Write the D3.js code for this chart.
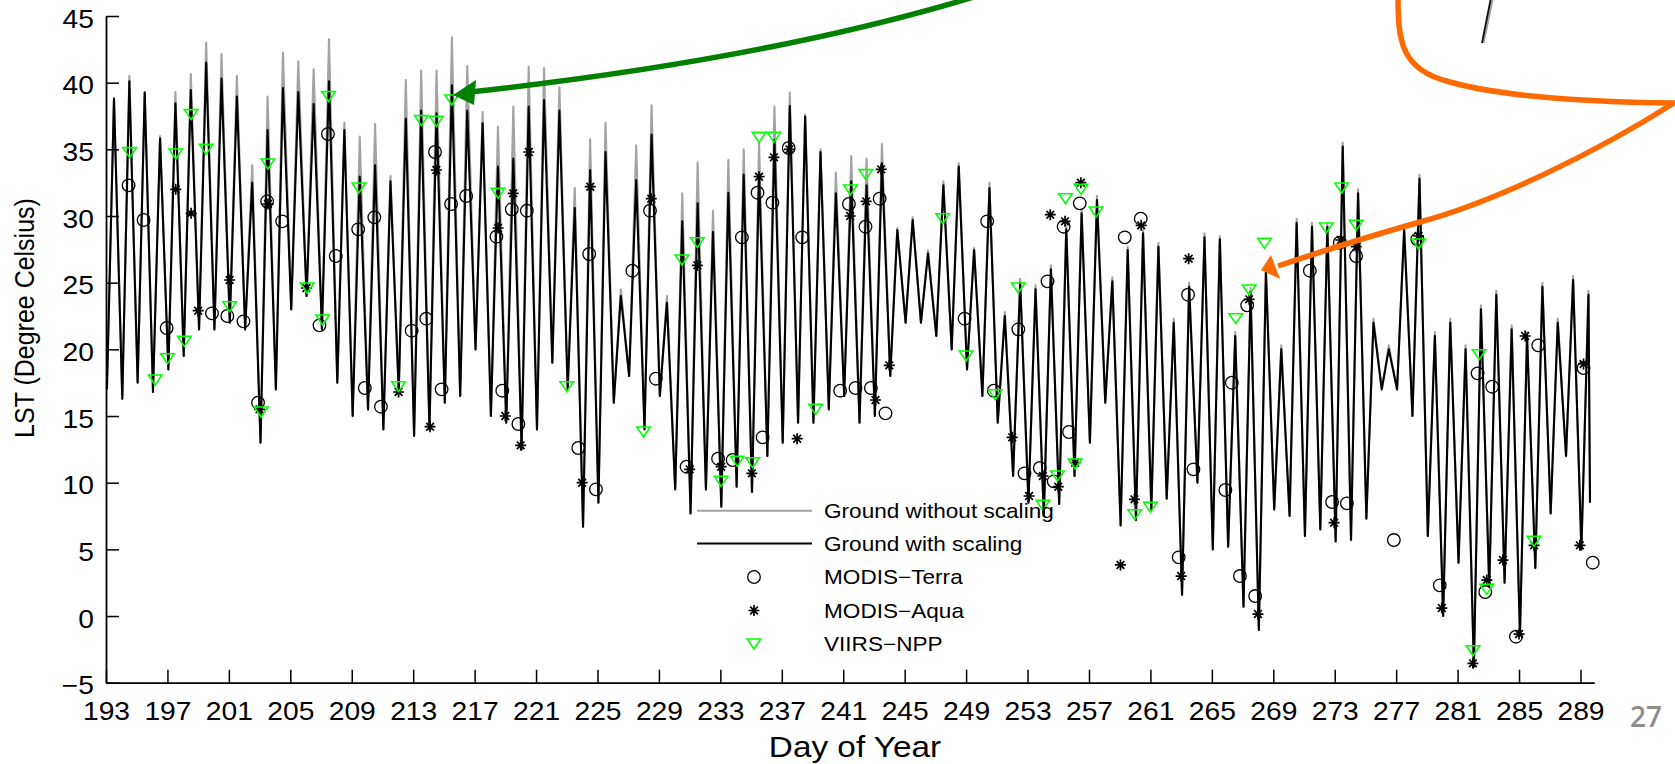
<!DOCTYPE html>
<html>
<head>
<meta charset="utf-8">
<script src="https://cdn.jsdelivr.net/npm/d3@7"></script>
<style>
  body { margin: 0; background: #fff; }
  svg { display: block; font-family: "Liberation Sans", Arial, Helvetica, sans-serif; }
</style>
</head>
<body>
<svg id="chart" width="1675" height="764"></svg>
<script>
// ---- data -------------------------------------------------------------
const firstDay = 193;
// hour-of-day (as day fraction) of the nightly minimum and afternoon peak
const lowTime = 0.06;
const peakTime = 0.52;

// daily afternoon peak of ground LST, with emissivity scaling (deg C)
const peakScaled = [
  38.8, 40.1, 39.25, 35.8, 38.45, 39.45, 41.5, 40.3, 38.95, 32.5,
  36.45, 39.6, 39.3, 38.4, 40.1, 36.45, 32.95, 33.8, 32.6, 37.3,
  37.9, 37.7, 39.8, 37.9, 36.95, 33.7, 34.3, 38.2, 38.7, 37.9,
  30.6, 33.45, 34.8, 24.0, 32.7, 36.1, 23.5, 29.6, 30.95, 28.8,
  31.75, 33.1, 33.2, 35.7, 38.25, 37.45, 34.8, 31.7, 32.6, 32.3,
  33.95, 28.95, 29.7, 27.2, 32.3, 33.7, 27.45, 32.1, 22.5, 25.0,
  24.5, 26.0, 29.0, 30.2, 31.2, 25.1, 27.45, 28.7, 27.7, 22.0,
  24.7, 28.4, 28.25, 21.0, 24.3, 25.8, 20.0, 29.5, 29.2, 29.2,
  35.2, 31.7, 22.0, 20.0, 28.95, 32.8, 21.0, 22.0, 20.0, 23.0,
  24.1, 21.5, 21.0, 24.7, 22.0, 25.2, 24.1
];

// daily afternoon peak without scaling (deg C)
const peakRaw = [
  38.8, 40.5, 39.3, 36.0, 39.3, 40.65, 43.0, 42.15, 40.5, 33.8,
  38.95, 42.25, 41.6, 41.0, 43.25, 37.0, 35.95, 36.9, 33.0, 40.2,
  40.9, 40.9, 43.4, 41.25, 37.8, 36.7, 38.2, 41.2, 41.1, 39.65,
  32.1, 35.75, 37.0, 24.5, 35.3, 38.3, 24.0, 31.7, 34.0, 30.4,
  34.2, 35.0, 35.5, 38.2, 39.25, 37.6, 35.0, 33.25, 34.5, 34.3,
  35.4, 29.1, 29.9, 27.4, 32.6, 33.95, 27.6, 32.5, 22.8, 25.3,
  24.8, 26.3, 29.3, 30.5, 31.5, 25.4, 27.7, 29.0, 28.0, 22.3,
  25.0, 28.7, 28.5, 21.3, 24.6, 26.1, 20.3, 29.8, 29.5, 29.5,
  35.5, 32.0, 22.3, 20.3, 29.2, 33.1, 21.3, 22.3, 20.3, 23.3,
  24.4, 21.8, 21.3, 25.0, 22.3, 25.5, 24.4
];

// daily nightly minimum (deg C)
const dailyLow = [
  17.0, 16.3, 17.5, 16.8, 18.5, 19.5, 21.5, 21.5, 22.0, 21.5,
  13.0, 17.0, 23.0, 24.0, 21.5, 17.5, 15.0, 15.5, 14.0, 16.8,
  13.5, 14.0, 16.0, 16.5, 20.0, 15.0, 14.5, 12.5, 14.0, 19.0,
  17.0, 6.7, 8.5, 16.0, 18.0, 14.0, 16.5, 9.5, 7.7, 9.5,
  8.2, 9.7, 9.3, 12.0, 13.0, 14.5, 14.5, 15.5, 16.5, 14.5,
  15.0, 18.0, 22.0, 22.0, 21.0, 20.0, 18.5, 16.5, 14.5, 10.5,
  8.5, 7.5, 8.4, 10.5, 13.0, 16.0, 6.8, 7.2, 8.0, 8.8,
  1.6, 10.0, 5.0, 5.2, 0.7, -1.05, 8.0, 7.5, 6.0, 6.5,
  5.6, 5.7, 7.3, 17.0, 17.0, 15.0, 6.0, 0.0, 4.0, -3.8,
  2.2, 2.5, -1.4, 3.6, 7.7, 12.0, 5.0
];

// last ground sample of the record [day, deg C]
const recordEnd = [289.62, 8.5];

// satellite LST retrievals [day of year, deg C]
const modisTerra = [
  [194.47, 32.3], [195.45, 29.7], [196.95, 21.6], [199.9, 22.7], [200.9, 22.5],
  [201.95, 22.1], [202.9, 16.0], [203.49, 31.1], [204.47, 29.6], [206.9, 21.8],
  [207.45, 36.15], [207.96, 27.0], [209.42, 29.0], [209.85, 17.1], [210.47, 29.9],
  [210.9, 15.7], [212.9, 21.4], [213.85, 22.3], [214.42, 34.8], [214.85, 17.0],
  [215.47, 30.9], [216.45, 31.5], [218.42, 28.45], [218.8, 16.9], [219.42, 30.5],
  [219.85, 14.4], [220.4, 30.4], [223.75, 12.6], [224.46, 27.15], [224.9, 9.5],
  [227.27, 25.9], [228.42, 30.4], [228.8, 17.8], [230.8, 11.2], [232.85, 11.8],
  [233.8, 11.7], [234.4, 28.4], [235.42, 31.75], [235.75, 13.4], [236.39, 31.0],
  [237.45, 35.1], [238.33, 28.4], [240.8, 16.9], [241.37, 30.9], [241.8, 17.1],
  [242.45, 29.2], [242.8, 17.1], [243.37, 31.3], [243.75, 15.2], [248.9, 22.3],
  [250.37, 29.6], [250.8, 16.9], [252.4, 21.5], [252.8, 10.7], [253.8, 11.1],
  [254.3, 25.1], [254.7, 10.1], [255.35, 29.2], [255.7, 13.8], [256.4, 30.95],
  [259.33, 28.4], [260.37, 29.8], [262.84, 4.4], [263.45, 24.1], [263.8, 11.0],
  [265.88, 9.45], [266.3, 17.5], [266.83, 3.0], [267.3, 23.3], [267.82, 1.5],
  [271.38, 25.9], [272.83, 8.55], [273.33, 28.0], [273.79, 8.45], [274.39, 27.0],
  [276.85, 5.7], [278.38, 28.25], [279.84, 2.3], [282.3, 18.2], [282.8, 1.8],
  [283.25, 17.2], [284.8, -1.55], [286.25, 20.3], [289.2, 18.6], [289.8, 4.0]
];

const modisAqua = [
  [197.54, 32.0], [198.54, 30.2], [199.0, 22.9], [201.05, 25.2], [203.0, 15.5],
  [203.54, 30.9], [206.05, 24.6], [212.05, 16.8], [214.1, 14.2], [214.51, 33.45],
  [218.53, 29.1], [219.0, 15.0], [219.51, 31.7], [220.0, 12.8], [220.53, 34.8],
  [224.0, 10.0], [224.53, 32.2], [228.5, 31.3], [231.0, 11.0], [231.5, 26.3],
  [233.05, 11.2], [235.05, 10.7], [235.52, 32.95], [236.49, 34.4], [237.5, 35.0],
  [238.0, 13.3], [241.45, 30.0], [242.49, 31.1], [243.1, 16.2], [243.47, 33.5],
  [244.0, 18.8], [252.0, 13.4], [253.1, 9.0], [254.0, 10.5], [254.48, 30.1],
  [255.0, 9.7], [255.44, 29.6], [256.1, 11.5], [256.47, 32.5], [259.05, 3.83],
  [259.96, 8.75], [260.4, 29.3], [263.0, 3.0], [263.49, 26.8], [267.43, 23.75],
  [268.0, 0.15], [272.96, 7.0], [273.4, 28.2], [274.4, 27.7], [278.46, 28.5],
  [279.97, 0.6], [282.0, -3.55], [282.9, 2.7], [283.95, 4.2], [285.0, -1.35],
  [285.4, 21.0], [285.98, 5.3], [288.96, 5.3], [289.2, 18.9]
];

const viirsNpp = [
  [194.54, 34.75], [196.2, 17.7], [197.0, 19.3], [197.54, 34.65], [198.1, 20.6],
  [198.54, 37.6], [199.52, 35.0], [201.05, 23.2], [203.1, 15.3], [203.54, 33.9],
  [206.1, 24.6], [207.1, 22.2], [207.49, 38.95], [209.46, 32.1], [212.05, 17.2],
  [213.53, 37.15], [214.51, 37.1], [215.51, 38.7], [218.53, 31.7], [223.0, 17.2],
  [228.0, 13.8], [230.5, 26.7], [231.5, 28.0], [233.05, 10.1], [234.1, 11.6],
  [235.1, 11.5], [235.52, 35.9], [236.49, 35.9], [239.2, 15.5], [241.47, 31.95],
  [242.47, 33.1], [247.48, 29.8], [249.0, 19.5], [250.9, 16.6], [252.4, 24.6],
  [254.0, 8.3], [254.95, 10.5], [255.47, 31.3], [256.1, 11.4], [256.48, 32.0],
  [257.46, 30.3], [259.98, 7.6], [261.0, 8.15], [266.56, 22.3], [267.43, 24.45],
  [268.43, 27.95], [272.45, 29.1], [273.45, 32.1], [274.4, 29.3], [278.46, 27.9],
  [282.0, -2.6], [282.4, 19.6], [282.9, 2.0], [285.98, 5.6]
];

const xTickValues = [193, 197, 201, 205, 209, 213, 217, 221, 225, 229, 233, 237, 241,
                     245, 249, 253, 257, 261, 265, 269, 273, 277, 281, 285, 289];
const yTickValues = [-5, 0, 5, 10, 15, 20, 25, 30, 35, 40, 45];
const legendLabels = ["Ground without scaling", "Ground with scaling",
                      "MODIS\u2212Terra", "MODIS\u2212Aqua", "VIIRS\u2212NPP"];

// ---- layout -----------------------------------------------------------
const svg = d3.select("#chart");
const STRETCH = 1.13;           // text in this figure is set slightly wide
const x = d3.scaleLinear().domain([193, 289.9]).range([106, 1594.3]);
const y = d3.scaleLinear().domain([-5, 45]).range([682.7, 16]);

// ---- ground temperature series ---------------------------------------
function cycleSeries(peaks) {
  const pts = [];
  dailyLow.forEach((lo, i) => {
    const day = firstDay + i;
    pts.push([day + lowTime, lo]);
    pts.push([day + peakTime, peaks[i]]);
  });
  pts.push(recordEnd);
  return pts;
}
const line = d3.line().x(d => x(d[0])).y(d => y(d[1]));

svg.append("path").datum(cycleSeries(peakRaw))
  .attr("d", line).attr("fill", "none")
  .attr("stroke", "#a3a3a3").attr("stroke-width", 2.1).attr("stroke-linejoin", "round");
svg.append("path").datum(cycleSeries(peakScaled))
  .attr("d", line).attr("fill", "none")
  .attr("stroke", "#000").attr("stroke-width", 2.1).attr("stroke-linejoin", "round");

// ---- markers ------------------------------------------------------------
const starPath = (s) => `M${-s},0H${s}M0,${-s}V${s}M${-0.7*s},${-0.7*s}L${0.7*s},${0.7*s}M${-0.7*s},${0.7*s}L${0.7*s},${-0.7*s}`;
const triPath = (w, h) => `M${-w/2},${-h/2}L${w/2},${-h/2}L0,${h/2}Z`;

function drawCircle(g, cx, cy) {
  g.append("circle").attr("cx", cx).attr("cy", cy).attr("r", 6.3)
    .attr("fill", "none").attr("stroke", "#000").attr("stroke-width", 1.3);
}
function drawStar(g, cx, cy) {
  g.append("path").attr("d", starPath(5.5)).attr("transform", `translate(${cx},${cy})`)
    .attr("fill", "none").attr("stroke", "#000").attr("stroke-width", 1.7);
}
function drawTri(g, cx, cy) {
  g.append("path").attr("d", triPath(13.5, 10)).attr("transform", `translate(${cx},${cy})`)
    .attr("fill", "none").attr("stroke", "#00ff00").attr("stroke-width", 1.6)
    .attr("stroke-linejoin", "miter");
}

const marks = svg.append("g");
modisTerra.forEach(d => drawCircle(marks, x(d[0]), y(d[1])));
modisAqua.forEach(d => drawStar(marks, x(d[0]), y(d[1])));
viirsNpp.forEach(d => drawTri(marks, x(d[0]), y(d[1])));

// ---- axes -------------------------------------------------------------
const xAxis = d3.axisBottom(x).tickValues(xTickValues).tickSizeInner(-13).tickSizeOuter(0).tickPadding(0);
const gx = svg.append("g").attr("transform", `translate(0,${y(-5)})`).call(xAxis);
gx.selectAll("text").attr("y", 37).attr("dy", 0)
  .attr("font-size", 25).attr("fill", "#000").attr("font-family", null)
  .attr("transform", `scale(${STRETCH},1)`);

const yAxis = d3.axisLeft(y).tickValues(yTickValues).tickSizeInner(-13).tickSizeOuter(0).tickPadding(0)
  .tickFormat(d => d < 0 ? "\u2212" + Math.abs(d) : d);
const gy = svg.append("g").attr("transform", `translate(${x(193)},0)`).call(yAxis);
gy.selectAll("text").attr("x", -12 / STRETCH).attr("y", 2.5).attr("dy", "0.35em")
  .attr("font-size", 25).attr("fill", "#000").attr("font-family", null)
  .attr("transform", `scale(${STRETCH},1)`);

[gx, gy].forEach(g => {
  g.select(".domain").attr("stroke", "#000").attr("stroke-width", 1.8);
  g.selectAll(".tick line").attr("stroke", "#000").attr("stroke-width", 1.5);
});

// axis titles
svg.append("text").attr("transform", `translate(855,757) scale(${STRETCH},1)`)
  .attr("text-anchor", "middle").attr("font-size", 29.5).text("Day of Year");
svg.append("text").attr("transform", `translate(34,318) rotate(-90) scale(1,${STRETCH})`)
  .attr("text-anchor", "middle").attr("font-size", 25).text("LST (Degree Celsius)");

// ---- legend -----------------------------------------------------------
const legRows = [510.7, 543.5, 577, 610.5, 644];
const lg = svg.append("g");
lg.append("line").attr("x1", 697).attr("x2", 812).attr("y1", legRows[0]).attr("y2", legRows[0])
  .attr("stroke", "#a3a3a3").attr("stroke-width", 2);
lg.append("line").attr("x1", 697).attr("x2", 812).attr("y1", legRows[1]).attr("y2", legRows[1])
  .attr("stroke", "#000").attr("stroke-width", 2);
drawCircle(lg, 754, legRows[2]);
drawStar(lg, 754, legRows[3]);
drawTri(lg, 754, legRows[4]);
legendLabels.forEach((t, i) => {
  lg.append("text").attr("transform", `translate(824,${legRows[i] + 7}) scale(${STRETCH},1)`)
    .attr("font-size", 20).text(t);
});

// ---- slide annotations ---------------------------------------------------
const ann = svg.append("g");
// green pointer
ann.append("path").attr("d", "M990,-8 Q780,58 470,92")
  .attr("fill", "none").attr("stroke", "#008000").attr("stroke-width", 5.5);
ann.append("path").attr("d", "M453,95 L476,80 L474,105 Z").attr("fill", "#008000");
// orange callout pointer
ann.append("path")
  .attr("d", "M1398,-5 C1398,40 1400,70 1450,82 C1500,96 1580,102 1674,103 C1600,150 1500,200 1420,222 C1370,236 1320,252 1278,266")
  .attr("fill", "none").attr("stroke", "#ff6a00").attr("stroke-width", 5.5).attr("stroke-linejoin", "round");
ann.append("path").attr("d", "M1261,270 L1271,255 L1280,279 Z").attr("fill", "#ff6a00");
// stray pen stroke at the top
ann.append("line").attr("x1", 1492).attr("y1", 0).attr("x2", 1483).attr("y2", 43)
  .attr("stroke", "#a0a0a0").attr("stroke-width", 3);
ann.append("line").attr("x1", 1490.5).attr("y1", 0).attr("x2", 1482).attr("y2", 43)
  .attr("stroke", "#111").attr("stroke-width", 1.8);

// slide number
svg.append("text").attr("x", 1630).attr("y", 727).attr("font-size", 28)
  .attr("font-family", "'Open Sans', 'Liberation Sans', sans-serif").attr("font-weight", 600)
  .attr("fill", "#8c8c8c").text("27");
</script>
</body>
</html>
